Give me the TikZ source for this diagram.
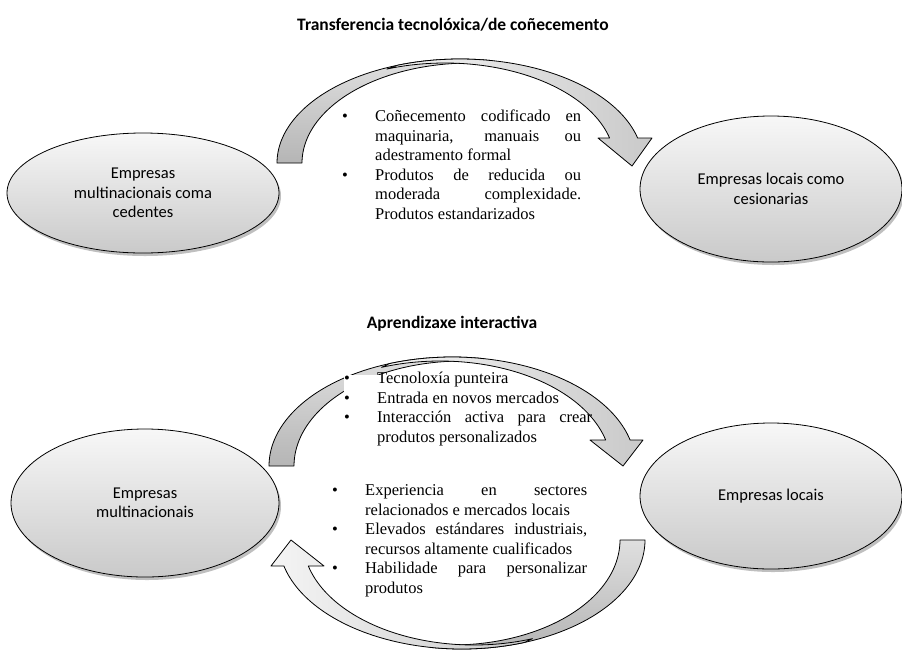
\documentclass[tikz,border=0pt]{standalone}
\usepackage{fontspec}
\setmainfont{Liberation Serif}
\newfontfamily\calfont{Carlito}
\usetikzlibrary{shapes.geometric,shadows}
\newcommand{\jl}[2]{\makebox[#1][s]{#2}}
\newcommand{\bul}{\makebox[33pt][l]{\textbullet}}
\newcommand{\bottomarch}{%
  \path[backband] plot[domain=180:80,samples=50] ({452.2+183.2*cos(\x)},{466-109*sin(\x)})
     -- plot[domain=80:180,samples=50] ({462+168*cos(\x)},{466-105*sin(\x)}) -- cycle;
  \path[frontband] plot[domain=110:13.8,samples=60] ({452.2+183.2*cos(\x)},{466-109*sin(\x)})
     -- (643,440) -- (623,466) -- (590,440)
     -- plot[domain=14.34:110,samples=60] ({440+171*cos(\x)},{466-105*sin(\x)}) -- cycle;}
\begin{document}
\begin{tikzpicture}[x=1pt,y=-1pt,
  ell/.style={ellipse, draw=black, line width=0.8pt, top color=gray!6, bottom color=gray!42,
    inner sep=0pt, align=center, font=\calfont\fontsize{16.5}{19.5}\selectfont,
    drop shadow={shadow xshift=2pt,shadow yshift=-3pt,fill=black,opacity=0.25}},
  ttl/.style={font=\calfont\bfseries\fontsize{17.5}{20}\selectfont},
  backband/.style={draw=black, line width=0.8pt, top color=gray!25, bottom color=gray!58, line join=round},
  frontband/.style={draw=black, line width=0.8pt, left color=gray!8, right color=gray!42, line join=round},
  lst/.style={font=\fontsize{16.5}{19.5}\selectfont, inner sep=0pt, anchor=north west}
]
\useasboundingbox (0,0) rectangle (902,649);
\fill[white] (0,0) rectangle (902,649);

% titles
\node[ttl] (t1) at (453,25) {Transferencia tecnolóxica/de coñecemento};
\node[ttl] (t2) at (452,324) {Aprendizaxe interactiva};

% ellipses
\node[ell, minimum width=272pt, minimum height=120pt] (tl) at (143,193) {Empresas\\multinacionais coma\\cedentes};
\node[ell, minimum width=262pt, minimum height=146pt] (tr) at (771,189) {Empresas locais como\\cesionarias};
\node[ell, minimum width=268pt, minimum height=148pt] (bl) at (145,503) {Empresas\\multinacionais};
\node[ell, minimum width=262pt, minimum height=146pt] (br) at (771,496) {Empresas locais};

% top arrow
\path[backband] plot[domain=180:80,samples=50] ({460+183*cos(\x)},{163-104*sin(\x)})
   -- plot[domain=80:180,samples=50] ({470+168*cos(\x)},{163-100*sin(\x)}) -- cycle;
\path[frontband] plot[domain=110:13.91,samples=60] ({460+183*cos(\x)},{163-104*sin(\x)})
   -- (652,138) -- (632,166) -- (598,138)
   -- plot[domain=14.48:110,samples=60] ({445+170*cos(\x)},{163-100*sin(\x)}) -- cycle;

% bottom arrows
\bottomarch
\begin{scope}[rotate around={180:(457,503)}]
\bottomarch
\end{scope}

% lists
\node[lst] (l1) at (342,108) {\begin{tabular}{@{}l@{}l@{}}
\bul & \jl{206pt}{Coñecemento codificado en}\\
 & \jl{206pt}{maquinaria, manuais ou}\\
 & adestramento formal\\
\bul & \jl{206pt}{Produtos de reducida ou}\\
 & \jl{206pt}{moderada complexidade.}\\
 & Produtos estandarizados
\end{tabular}};

\fill[white] (344,375) rectangle (398,446);
\node[lst] (l2) at (344,370) {\begin{tabular}{@{}l@{}l@{}}
\bul & Tecnoloxía punteira\\
\bul & Entrada en novos mercados\\
\bul & \jl{215pt}{Interacción activa para crear}\\
 & produtos personalizados
\end{tabular}};

\node[lst] (l3) at (332,482) {\begin{tabular}{@{}l@{}l@{}}
\bul & \jl{222pt}{Experiencia en sectores}\\
 & relacionados e mercados locais\\
\bul & \jl{222pt}{Elevados estándares industriais,}\\
 & recursos altamente cualificados\\
\bul & \jl{222pt}{Habilidade para personalizar}\\
 & produtos
\end{tabular}};
\end{tikzpicture}
\end{document}
